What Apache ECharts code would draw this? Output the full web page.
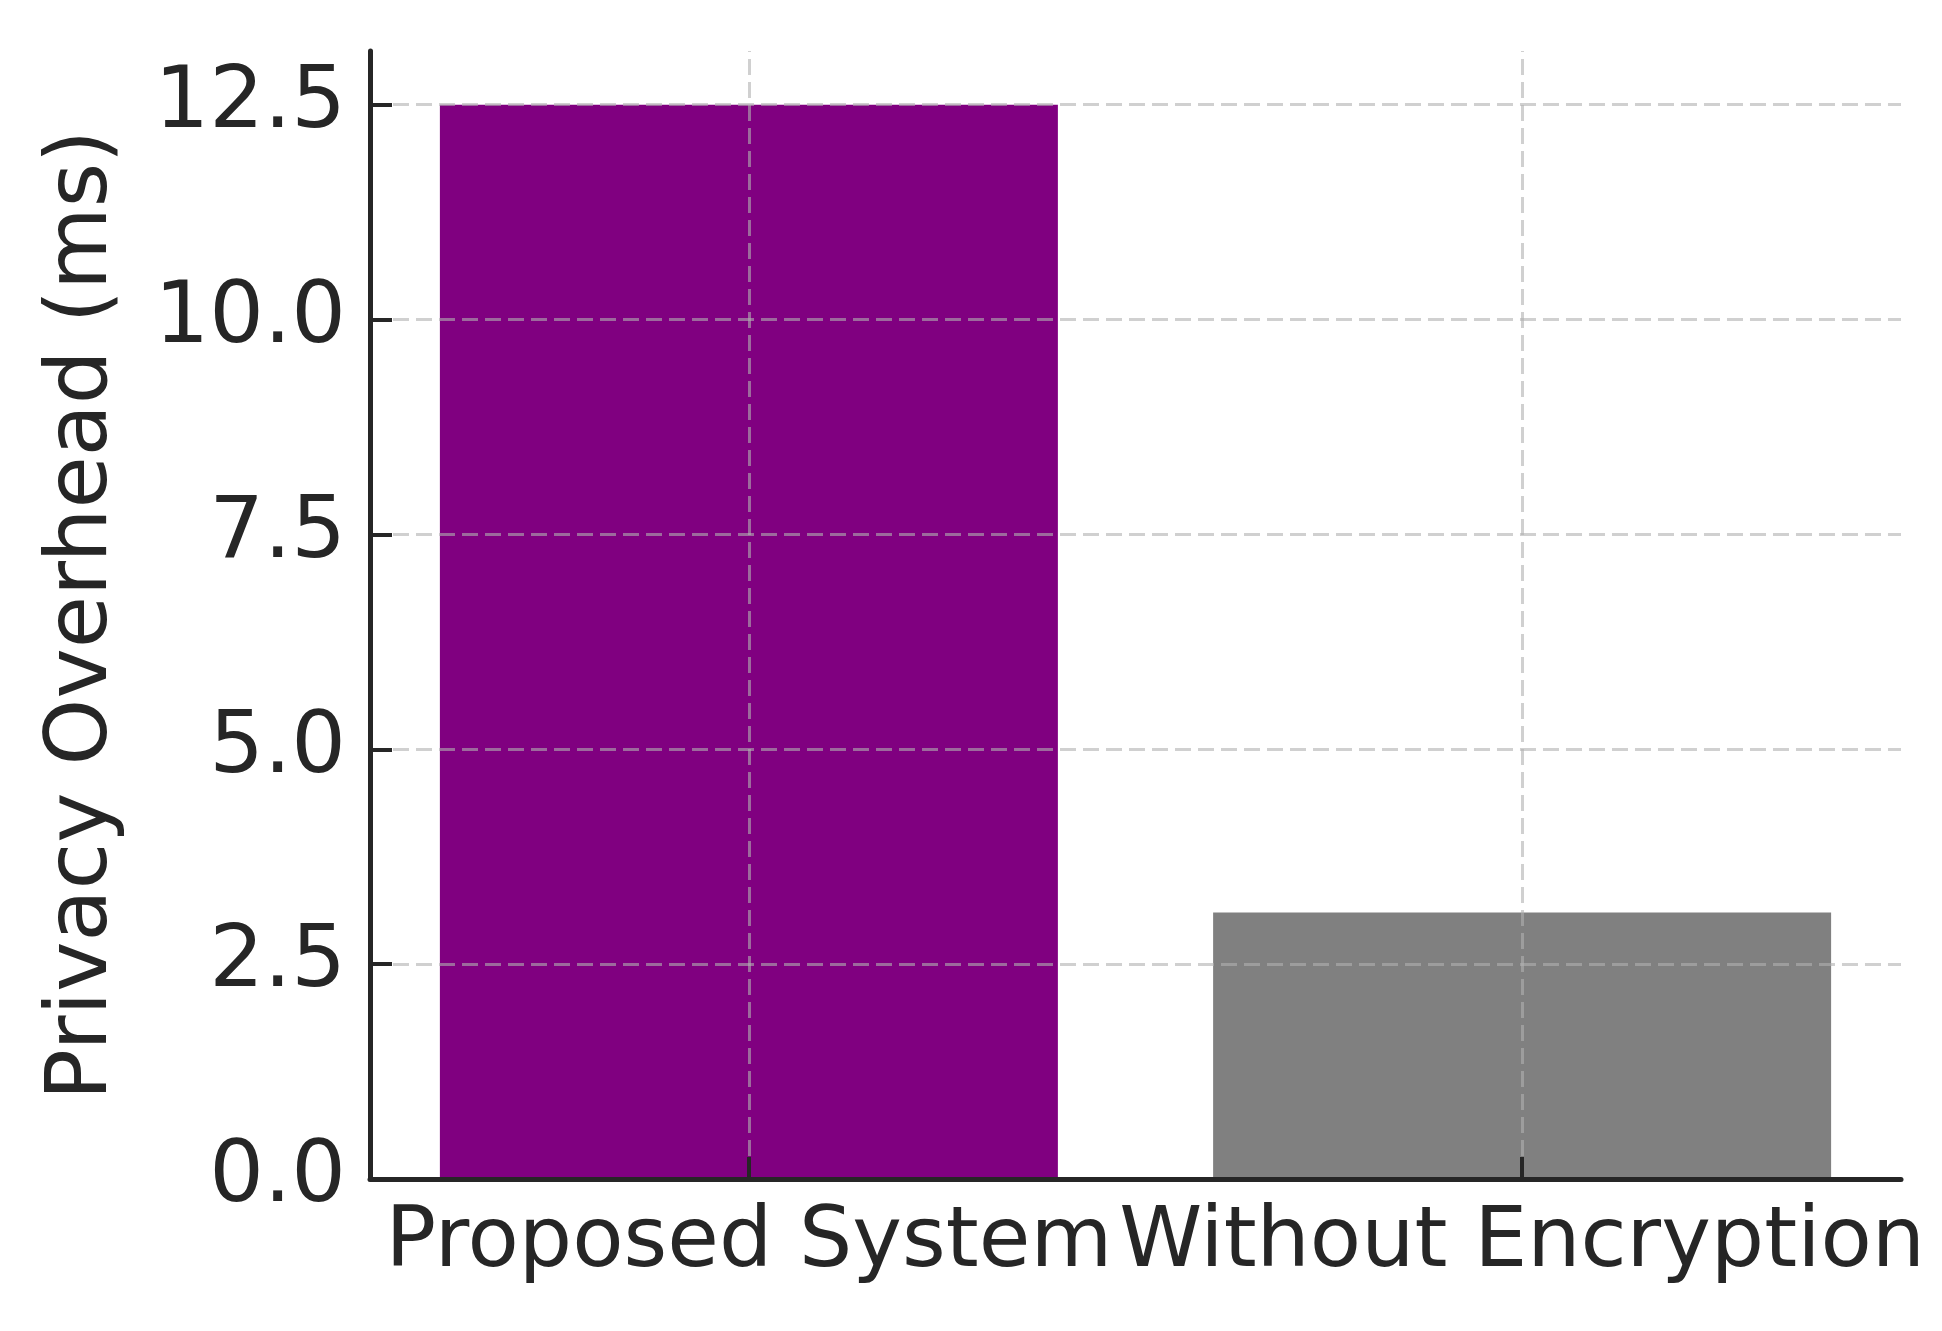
<!DOCTYPE html>
<html>
<head>
<meta charset="utf-8">
<title>Privacy Overhead</title>
<script src="https://cdn.jsdelivr.net/npm/echarts@6/dist/echarts.min.js"></script>
<style>
  html, body { margin: 0; padding: 0; background: #ffffff; }
  #chart { width: 1942px; height: 1331px; }
</style>
</head>
<body>
<div id="chart"></div>
<script>
/* data */
var categories = ['Proposed System', 'Without Encryption'];
var overheadMs = [12.5, 3.1];
var barColors = ['#800080', '#808080'];
var yTicks = [0, 2.5, 5, 7.5, 10, 12.5];
var xTicks = [0, 1];

var textColor = '#262626';
var fontName = 'DejaVu Sans';
var gridStyle = { color: 'rgba(176,176,176,0.6)', width: 3, type: [16, 7] };

var chart = echarts.init(document.getElementById('chart'));

/* grid lines drawn over the bars, like the source figure */
var gridLines = [];
xTicks.forEach(function (v) { gridLines.push({ xAxis: v }); });
yTicks.forEach(function (v) { if (v > 0) gridLines.push({ yAxis: v }); });

/* one bottom axis per category label, so the touching labels are both kept */
function bottomAxis(idx, withLine) {
    return {
        type: 'value',
        position: 'bottom',
        offset: 0,
        min: -0.49,
        max: 1.49,
        z: 10,
        axisLine: { show: withLine, onZero: false, lineStyle: { color: textColor, width: 5 } },
        axisTick: { show: withLine, inside: true, length: 22, customValues: xTicks, lineStyle: { color: textColor, width: 4 } },
        axisLabel: {
            color: textColor, fontFamily: fontName, fontSize: 84, margin: 23,
            customValues: [xTicks[idx]],
            formatter: function (v) { return categories[Math.round(v)]; }
        },
        splitLine: { show: false }
    };
}

var option = {
    backgroundColor: '#ffffff',
    animation: false,
    grid: { left: 370, right: 41, top: 51, bottom: 152 },
    xAxis: [bottomAxis(0, true), bottomAxis(1, false)],
    yAxis: {
        type: 'value',
        min: 0,
        max: 13.125,
        z: 10,
        name: 'Privacy Overhead (ms)',
        nameLocation: 'middle',
        nameGap: 244,
        nameTextStyle: { color: textColor, fontFamily: fontName, fontSize: 85 },
        axisLine: { show: true, onZero: false, lineStyle: { color: textColor, width: 5 } },
        axisTick: { show: true, inside: true, length: 22, customValues: yTicks, lineStyle: { color: textColor, width: 4 } },
        axisLabel: {
            color: textColor, fontFamily: fontName, fontSize: 86, margin: 24,
            customValues: yTicks,
            formatter: function (v) { return v.toFixed(1); }
        },
        splitLine: { show: false }
    },
    series: [
        {
            type: 'bar',
            xAxisIndex: 0,
            barWidth: 618,
            z: 2,
            data: overheadMs.map(function (v, i) {
                return { value: [xTicks[i], v], itemStyle: { color: barColors[i] } };
            }),
            markLine: {
                silent: true,
                symbol: ['none', 'none'],
                label: { show: false },
                lineStyle: gridStyle,
                data: gridLines
            }
        }
    ]
};

chart.setOption(option);
</script>
</body>
</html>
